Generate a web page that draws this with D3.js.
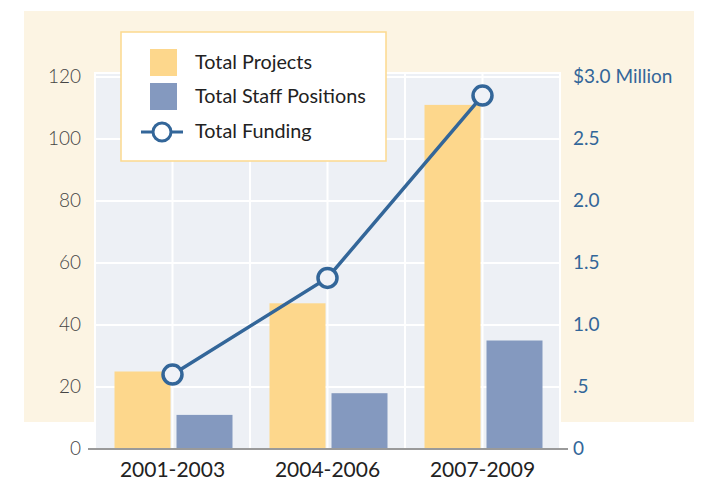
<!DOCTYPE html>
<html>
<head>
<meta charset="utf-8">
<script src="https://cdn.jsdelivr.net/npm/d3@7"></script>
<style>
  body { margin: 0; background: #fff; }
  svg { display: block; font-family: Lato, "Open Sans", sans-serif; }
</style>
</head>
<body>
<div id="chart"></div>
<script>
const periods = ["2001-2003", "2004-2006", "2007-2009"];
const totalProjects = [25, 47, 111];
const staffPositions = [11, 18, 35];
const fundingMillions = [0.6, 1.38, 2.85];
const leftTicks = [0, 20, 40, 60, 80, 100, 120];
const rightTicks = [0, 0.5, 1.0, 1.5, 2.0, 2.5, 3.0];
const rightLabels = ["0", ".5", "1.0", "1.5", "2.0", "2.5", "$3.0 Million"];

const width = 703, height = 481;
const plotLeft = 95, plotRight = 560, plotTop = 77, plotBottom = 449;

const svg = d3.select("#chart").append("svg")
  .attr("width", width)
  .attr("height", height);

// beige panel behind everything
svg.append("rect")
  .attr("x", 24).attr("y", 11)
  .attr("width", 670).attr("height", 411)
  .attr("fill", "#fcf4e3");

const x = d3.scaleBand().domain(periods).range([plotLeft, plotRight]);
const y = d3.scaleLinear().domain([0, 120]).range([plotBottom, plotTop]);
const y2 = d3.scaleLinear().domain([0, 3]).range([plotBottom, plotTop]);

// plot area
svg.append("rect")
  .attr("x", plotLeft).attr("y", plotTop - 4)
  .attr("width", plotRight - plotLeft).attr("height", plotBottom - plotTop + 4)
  .attr("fill", "#edf0f5")
  .attr("stroke", "#fff")
  .attr("stroke-width", 2);

// grid: vertical lines at band edges and centres
const vLines = [];
periods.forEach(p => {
  vLines.push(x(p));
  vLines.push(x(p) + x.bandwidth() / 2);
});
svg.append("g")
  .selectAll("line")
  .data(vLines)
  .join("line")
  .attr("x1", d => d).attr("x2", d => d)
  .attr("y1", plotTop - 4).attr("y2", plotBottom)
  .attr("stroke", "#fff")
  .attr("stroke-width", 2);

svg.append("g")
  .selectAll("line")
  .data(leftTicks.slice(1))
  .join("line")
  .attr("x1", plotLeft).attr("x2", plotRight)
  .attr("y1", d => y(d)).attr("y2", d => y(d))
  .attr("stroke", "#fff")
  .attr("stroke-width", 2);

// bars
const barW = 56, gap = 6;
const cx = p => x(p) + x.bandwidth() / 2 + 1;

svg.append("g")
  .selectAll("rect")
  .data(periods)
  .join("rect")
  .attr("x", p => cx(p) - gap / 2 - barW)
  .attr("y", (p, i) => y(totalProjects[i]))
  .attr("width", barW)
  .attr("height", (p, i) => plotBottom - y(totalProjects[i]))
  .attr("fill", "#fdd78c");

svg.append("g")
  .selectAll("rect")
  .data(periods)
  .join("rect")
  .attr("x", p => cx(p) + gap / 2)
  .attr("y", (p, i) => y(staffPositions[i]))
  .attr("width", barW)
  .attr("height", (p, i) => plotBottom - y(staffPositions[i]))
  .attr("fill", "#8499bf");

// baseline
svg.append("line")
  .attr("x1", 88).attr("x2", 568)
  .attr("y1", plotBottom).attr("y2", plotBottom)
  .attr("stroke", "#9a9a9a")
  .attr("stroke-width", 2);

// funding line
const lineColor = "#336699";
const pts = periods.map((p, i) => [x(p) + x.bandwidth() / 2, y2(fundingMillions[i])]);

svg.append("path")
  .attr("d", d3.line()(pts))
  .attr("fill", "none")
  .attr("stroke", lineColor)
  .attr("stroke-width", 3.5);

svg.append("g")
  .selectAll("circle")
  .data(pts)
  .join("circle")
  .attr("cx", d => d[0]).attr("cy", d => d[1])
  .attr("r", 9.5)
  .attr("fill", "#f0f2f7")
  .attr("stroke", lineColor)
  .attr("stroke-width", 3.5);

// left axis labels
svg.append("g")
  .selectAll("text")
  .data(leftTicks)
  .join("text")
  .attr("x", 81)
  .attr("y", d => y(d))
  .attr("dy", "0.3em")
  .attr("text-anchor", "end")
  .attr("font-size", 19)
  .attr("font-weight", 300)
  .attr("fill", "#444")
  .text(d => d);

// right axis labels
svg.append("g")
  .selectAll("text")
  .data(rightTicks)
  .join("text")
  .attr("x", 573)
  .attr("y", d => y2(d))
  .attr("dy", "0.3em")
  .attr("font-size", 19)
  .attr("fill", lineColor)
  .text((d, i) => rightLabels[i]);

// category labels
svg.append("g")
  .selectAll("text")
  .data(periods)
  .join("text")
  .attr("x", p => x(p) + x.bandwidth() / 2)
  .attr("y", 477)
  .attr("text-anchor", "middle")
  .attr("font-size", 21)
  .attr("fill", "#222")
  .text(p => p);

// legend
const legend = svg.append("g").attr("transform", "translate(121, 32)");
legend.append("rect")
  .attr("width", 265).attr("height", 129)
  .attr("fill", "#fff")
  .attr("stroke", "#fcd98e")
  .attr("stroke-width", 1.5);

legend.append("rect")
  .attr("x", 29).attr("y", 17).attr("width", 27).attr("height", 27)
  .attr("fill", "#fdd78c");
legend.append("rect")
  .attr("x", 29).attr("y", 51).attr("width", 27).attr("height", 27)
  .attr("fill", "#8499bf");
legend.append("line")
  .attr("x1", 20).attr("x2", 62).attr("y1", 100).attr("y2", 100)
  .attr("stroke", lineColor).attr("stroke-width", 3);
legend.append("circle")
  .attr("cx", 41).attr("cy", 100).attr("r", 9)
  .attr("fill", "#fff")
  .attr("stroke", lineColor).attr("stroke-width", 3);

const legendItems = ["Total Projects", "Total Staff Positions", "Total Funding"];
legend.selectAll(".legend-label")
  .data(legendItems)
  .join("text")
  .attr("class", "legend-label")
  .attr("x", 74)
  .attr("y", (d, i) => [37, 71, 106][i])
  .attr("font-size", 19.8)
  .attr("fill", "#222")
  .text(d => d);
</script>
</body>
</html>
